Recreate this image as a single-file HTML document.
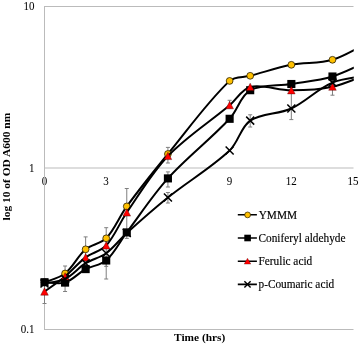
<!DOCTYPE html>
<html><head><meta charset="utf-8"><style>
html,body{margin:0;padding:0;background:#fff;width:360px;height:345px;overflow:hidden}
svg{display:block}
text{font-family:"Liberation Serif",serif;fill:#000}
.t{opacity:0.999}
</style></head><body>
<svg width="360" height="345" viewBox="0 0 360 345">
<defs><clipPath id="pa"><rect x="40" y="0" width="313.8" height="345"/></clipPath></defs>
<g class="t"><text transform="translate(34.60,10.00) scale(1.000,1.120)" font-size="11.00" text-anchor="end" stroke="#000" stroke-width="0.05">10</text>
<text transform="translate(34.40,171.60) scale(1.000,1.120)" font-size="11.00" text-anchor="end" stroke="#000" stroke-width="0.05">1</text>
<text transform="translate(34.60,332.90) scale(1.000,1.100)" font-size="11.00" text-anchor="end" stroke="#000" stroke-width="0.05">0.1</text>
<text transform="translate(44.40,185.00) scale(1.000,1.120)" font-size="11.00" text-anchor="middle" stroke="#000" stroke-width="0.05">0</text>
<text transform="translate(106.11,185.00) scale(1.000,1.120)" font-size="11.00" text-anchor="middle" stroke="#000" stroke-width="0.05">3</text>
<text transform="translate(229.53,185.00) scale(1.000,1.120)" font-size="11.00" text-anchor="middle" stroke="#000" stroke-width="0.05">9</text>
<text transform="translate(291.24,185.00) scale(1.000,1.120)" font-size="11.00" text-anchor="middle" stroke="#000" stroke-width="0.05">12</text>
<text transform="translate(352.95,185.00) scale(1.000,1.120)" font-size="11.00" text-anchor="middle" stroke="#000" stroke-width="0.05">15</text>
<text transform="translate(9.70,166.60) rotate(-90) scale(1.000,0.970)" font-size="11.45" text-anchor="middle" font-weight="bold">log 10 of OD A600 nm</text>
<text transform="translate(199.65,341.40)" font-size="11.35" text-anchor="middle" font-weight="bold">Time (hrs)</text>
<text transform="translate(258.70,218.50) scale(1.000,1.100)" font-size="11.33" text-anchor="start" stroke="#000" stroke-width="0.15">YMMM</text>
<text transform="translate(258.50,242.20) scale(1.000,1.100)" font-size="11.33" text-anchor="start" stroke="#000" stroke-width="0.15">Coniferyl aldehyde</text>
<text transform="translate(258.50,264.70) scale(1.000,1.100)" font-size="11.33" text-anchor="start" stroke="#000" stroke-width="0.15">Ferulic acid</text>
<text transform="translate(258.50,288.00) scale(1.000,1.100)" font-size="11.33" text-anchor="start" stroke="#000" stroke-width="0.15">p-Coumaric acid</text></g>
<g stroke="#bbbbbb" stroke-width="1" fill="none">
<path d="M44.5,6.5H353.5M44.5,168H353.5M44.5,329.5H353.5M44.5,6V330"/>
</g>
<g stroke="#7f7f7f" stroke-width="1" fill="none">
<path d="M44.50,284.00V303.50M42.50,284.00h4M42.50,303.50h4"/>
<path d="M65.07,266.00V291.50M63.07,266.00h4M63.07,291.50h4"/>
<path d="M85.64,236.90V262.00M83.64,236.90h4M83.64,262.00h4"/>
<path d="M106.21,227.70V279.00M104.21,227.70h4M104.21,279.00h4"/>
<path d="M106.21,262.00V266.40M104.21,262.00h4M104.21,266.40h4"/>
<path d="M126.78,188.50V238.40M124.78,188.50h4M124.78,238.40h4"/>
<path d="M167.92,147.40V163.00M165.92,147.40h4M165.92,163.00h4"/>
<path d="M167.92,171.90V187.00M165.92,171.90h4M165.92,187.00h4"/>
<path d="M167.92,192.50V203.00M165.92,192.50h4M165.92,203.00h4"/>
<path d="M229.63,100.30V108.00M227.63,100.30h4M227.63,108.00h4"/>
<path d="M250.20,114.80V127.00M248.20,114.80h4M248.20,127.00h4"/>
<path d="M291.34,84.00V119.60M289.34,84.00h4M289.34,119.60h4"/>
<path d="M332.48,80.00V95.20M330.48,80.00h4M330.48,95.20h4"/>
</g>
<path clip-path="url(#pa)" stroke="#000" stroke-width="2" fill="none" d="M44.50,282.30 C47.93,280.83 59.40,278.05 65.07,273.50 C73.12,267.05 77.73,256.06 85.64,249.30 C91.45,244.33 100.99,243.74 106.21,238.30 C114.70,229.44 119.31,216.60 126.78,206.40 C139.88,188.50 153.85,171.17 167.92,154.00 C188.13,129.34 207.18,102.24 229.63,80.90 C234.60,76.17 243.36,77.58 250.20,75.80 C263.93,72.22 277.44,67.50 291.34,64.80 C304.87,62.17 319.48,63.84 332.48,59.80 C346.91,55.31 366.76,42.64 373.62,39.21"/>
<circle cx="44.50" cy="282.30" r="3.4" fill="#FFC000" stroke="#2a2000" stroke-width="0.8"/>
<circle cx="65.07" cy="273.50" r="3.4" fill="#FFC000" stroke="#2a2000" stroke-width="0.8"/>
<circle cx="85.64" cy="249.30" r="3.4" fill="#FFC000" stroke="#2a2000" stroke-width="0.8"/>
<circle cx="106.21" cy="238.30" r="3.4" fill="#FFC000" stroke="#2a2000" stroke-width="0.8"/>
<circle cx="126.78" cy="206.40" r="3.4" fill="#FFC000" stroke="#2a2000" stroke-width="0.8"/>
<circle cx="167.92" cy="154.00" r="3.4" fill="#FFC000" stroke="#2a2000" stroke-width="0.8"/>
<circle cx="229.63" cy="80.90" r="3.4" fill="#FFC000" stroke="#2a2000" stroke-width="0.8"/>
<circle cx="250.20" cy="75.80" r="3.4" fill="#FFC000" stroke="#2a2000" stroke-width="0.8"/>
<circle cx="291.34" cy="64.80" r="3.4" fill="#FFC000" stroke="#2a2000" stroke-width="0.8"/>
<circle cx="332.48" cy="59.80" r="3.4" fill="#FFC000" stroke="#2a2000" stroke-width="0.8"/>
<path clip-path="url(#pa)" stroke="#000" stroke-width="2" fill="none" d="M44.50,282.20 C47.93,282.27 58.83,284.59 65.07,282.60 C72.54,280.22 78.45,272.96 85.64,269.10 C92.16,265.60 100.86,265.28 106.21,260.50 C114.57,253.04 119.81,241.68 126.78,232.40 C140.38,214.31 152.78,195.13 167.92,178.40 C187.06,157.26 210.19,139.64 229.63,118.80 C237.61,110.24 240.77,95.52 250.20,90.20 C261.34,83.92 277.66,86.28 291.34,84.00 C305.09,81.71 319.26,80.61 332.48,76.50 C346.69,72.08 366.76,61.42 373.62,58.40"/>
<rect x="40.45" y="278.15" width="8.1" height="8.1" fill="#000"/>
<rect x="61.02" y="278.55" width="8.1" height="8.1" fill="#000"/>
<rect x="81.59" y="265.05" width="8.1" height="8.1" fill="#000"/>
<rect x="102.16" y="256.45" width="8.1" height="8.1" fill="#000"/>
<rect x="122.73" y="228.35" width="8.1" height="8.1" fill="#000"/>
<rect x="163.87" y="174.35" width="8.1" height="8.1" fill="#000"/>
<rect x="225.58" y="114.75" width="8.1" height="8.1" fill="#000"/>
<rect x="246.15" y="86.15" width="8.1" height="8.1" fill="#000"/>
<rect x="287.29" y="79.95" width="8.1" height="8.1" fill="#000"/>
<rect x="328.43" y="72.45" width="8.1" height="8.1" fill="#000"/>
<path clip-path="url(#pa)" stroke="#000" stroke-width="2" fill="none" d="M44.50,291.60 C47.93,289.08 58.54,281.93 65.07,276.50 C72.25,270.53 78.21,263.00 85.64,257.40 C91.93,252.66 101.01,251.18 106.21,245.50 C114.72,236.21 119.43,223.16 126.78,212.50 C140.00,193.33 151.93,172.69 167.92,156.00 C186.21,136.92 209.22,122.32 229.63,105.20 C236.64,99.32 241.98,88.98 250.20,87.00 C262.55,84.02 277.63,90.35 291.34,90.30 C305.06,90.25 319.17,89.72 332.48,86.70 C346.60,83.50 366.76,74.14 373.62,71.62"/>
<path d="M44.50,287.80 L48.30,295.20 L40.70,295.20 Z" fill="#FF0000" stroke="#400" stroke-width="0.4"/>
<path d="M65.07,272.70 L68.87,280.10 L61.27,280.10 Z" fill="#FF0000" stroke="#400" stroke-width="0.4"/>
<path d="M85.64,253.60 L89.44,261.00 L81.84,261.00 Z" fill="#FF0000" stroke="#400" stroke-width="0.4"/>
<path d="M106.21,241.70 L110.01,249.10 L102.41,249.10 Z" fill="#FF0000" stroke="#400" stroke-width="0.4"/>
<path d="M126.78,208.70 L130.58,216.10 L122.98,216.10 Z" fill="#FF0000" stroke="#400" stroke-width="0.4"/>
<path d="M167.92,152.20 L171.72,159.60 L164.12,159.60 Z" fill="#FF0000" stroke="#400" stroke-width="0.4"/>
<path d="M229.63,101.40 L233.43,108.80 L225.83,108.80 Z" fill="#FF0000" stroke="#400" stroke-width="0.4"/>
<path d="M250.20,83.20 L254.00,90.60 L246.40,90.60 Z" fill="#FF0000" stroke="#400" stroke-width="0.4"/>
<path d="M291.34,86.50 L295.14,93.90 L287.54,93.90 Z" fill="#FF0000" stroke="#400" stroke-width="0.4"/>
<path d="M332.48,82.90 L336.28,90.30 L328.68,90.30 Z" fill="#FF0000" stroke="#400" stroke-width="0.4"/>
<path clip-path="url(#pa)" stroke="#000" stroke-width="2" fill="none" d="M44.50,283.50 C47.93,282.75 58.93,282.03 65.07,279.00 C72.64,275.27 78.35,267.77 85.64,263.20 C92.07,259.17 100.14,257.65 106.21,253.20 C113.86,247.59 119.65,239.44 126.78,233.00 C140.22,220.87 153.80,208.83 167.92,197.50 C188.08,181.33 210.95,167.96 229.63,150.50 C238.37,142.33 240.77,127.02 250.20,120.60 C261.34,113.02 278.49,114.44 291.34,108.50 C305.91,101.77 317.74,88.60 332.48,82.60 C345.16,77.44 366.76,76.29 373.62,75.03"/>
<path d="M40.50,279.50 l8,8 M48.50,279.50 l-8,8" stroke="#000" stroke-width="1.5" fill="none"/>
<path d="M61.07,275.00 l8,8 M69.07,275.00 l-8,8" stroke="#000" stroke-width="1.5" fill="none"/>
<path d="M81.64,259.20 l8,8 M89.64,259.20 l-8,8" stroke="#000" stroke-width="1.5" fill="none"/>
<path d="M102.21,249.20 l8,8 M110.21,249.20 l-8,8" stroke="#000" stroke-width="1.5" fill="none"/>
<path d="M122.78,229.00 l8,8 M130.78,229.00 l-8,8" stroke="#000" stroke-width="1.5" fill="none"/>
<path d="M163.92,193.50 l8,8 M171.92,193.50 l-8,8" stroke="#000" stroke-width="1.5" fill="none"/>
<path d="M225.63,146.50 l8,8 M233.63,146.50 l-8,8" stroke="#000" stroke-width="1.5" fill="none"/>
<path d="M246.20,116.60 l8,8 M254.20,116.60 l-8,8" stroke="#000" stroke-width="1.5" fill="none"/>
<path d="M287.34,104.50 l8,8 M295.34,104.50 l-8,8" stroke="#000" stroke-width="1.5" fill="none"/>
<path d="M328.48,78.60 l8,8 M336.48,78.60 l-8,8" stroke="#000" stroke-width="1.5" fill="none"/>
<g stroke="#000" stroke-width="1.6">
<path d="M237.8,214.8H256.9M237.8,238H256.9M237.8,261.2H256.9M237.8,284.4H256.9"/>
</g>
<circle cx="247.6" cy="214.9" r="2.9" fill="#FFC000" stroke="#2a2000" stroke-width="0.7"/>
<rect x="244.3" y="234.7" width="6.6" height="6.6" fill="#000"/>
<path d="M247.5,258.2 L250.8,264.1 L244.2,264.1 Z" fill="#FF0000" stroke="#400" stroke-width="0.3"/>
<path d="M244.4,281.3 l6.2,6.2 M250.6,281.3 l-6.2,6.2" stroke="#000" stroke-width="1.4" fill="none"/>

</svg>
</body></html>
